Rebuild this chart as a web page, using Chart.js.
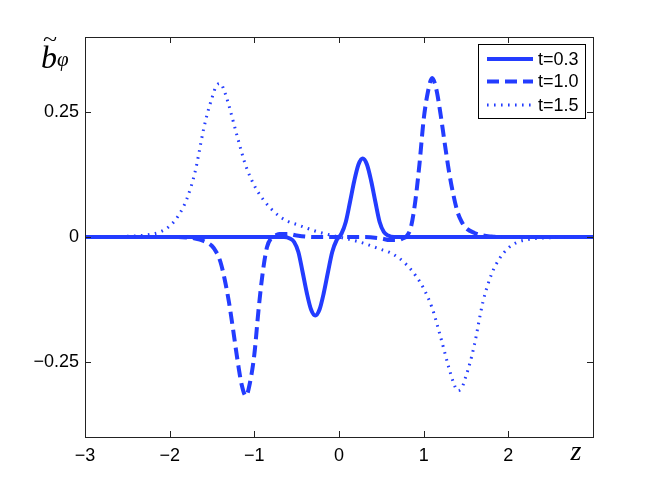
<!DOCTYPE html>
<html>
<head>
<meta charset="utf-8">
<script src="https://cdn.jsdelivr.net/npm/chart.js@4.4.1/dist/chart.umd.min.js"></script>
<style>
  body { margin: 0; background: #fff; }
  canvas { display: block; }
</style>
</head>
<body>
<canvas id="chart" width="654" height="492"></canvas>
<script>
// values
const xTicks = [-3, -2, -1, 0, 1, 2];
const yTicks = [-0.25, 0, 0.25];
const seriesLabels = ['t=0.3', 't=1.0', 't=1.5'];

const zT03 = [-3, -0.65, -0.58, -0.53, -0.48, -0.43, -0.38, -0.33, -0.28, -0.23, -0.18, -0.13, -0.08, -0.03, 0,
              0.03, 0.08, 0.13, 0.18, 0.23, 0.28, 0.33, 0.38, 0.43, 0.48, 0.53, 0.58, 0.65, 3];
const bT03 = [0, 0, -0.003, -0.01, -0.03, -0.07, -0.112, -0.145, -0.157, -0.145, -0.112, -0.07, -0.03, -0.007, 0,
              0.007, 0.03, 0.07, 0.112, 0.145, 0.157, 0.145, 0.112, 0.07, 0.03, 0.01, 0.003, 0, 0];

const zT10 = [-3, -1.9, -1.8, -1.7, -1.6, -1.5, -1.45, -1.4, -1.35, -1.3, -1.25, -1.2, -1.15, -1.1, -1.05, -1.0,
              -0.95, -0.9, -0.85, -0.8, -0.75, -0.7, -0.6, -0.5, -0.3, 0,
              0.3, 0.5, 0.6, 0.7, 0.75, 0.8, 0.85, 0.9, 0.95, 1.0, 1.05, 1.1, 1.15, 1.2, 1.25, 1.3, 1.35,
              1.4, 1.45, 1.5, 1.6, 1.7, 1.8, 1.9, 3];
const bT10 = [0, 0, -0.001, -0.003, -0.008, -0.018, -0.03, -0.05, -0.085, -0.13, -0.186, -0.245, -0.295, -0.318, -0.29, -0.235,
              -0.145, -0.07, -0.02, -0.002, 0.003, 0.006, 0.006, 0.003, 0, 0,
              0, -0.003, -0.006, -0.006, -0.003, 0.002, 0.02, 0.07, 0.145, 0.235, 0.29, 0.318, 0.295, 0.245, 0.186, 0.13, 0.085,
              0.05, 0.03, 0.018, 0.008, 0.003, 0.001, 0, 0];

const zT15 = [-3, -2.6, -2.4, -2.2, -2.1, -2.0, -1.9, -1.8, -1.7, -1.6, -1.55, -1.5, -1.45, -1.4, -1.35, -1.3, -1.2,
              -1.1, -1.0, -0.9, -0.8, -0.7, -0.6, -0.5, -0.4, -0.3, -0.2, 0,
              0.2, 0.3, 0.4, 0.5, 0.6, 0.7, 0.8, 0.9, 1.0, 1.1, 1.2, 1.3, 1.35, 1.4, 1.45, 1.5, 1.55, 1.6,
              1.7, 1.8, 1.9, 2.0, 2.1, 2.2, 2.4, 2.6, 3];
const bT15 = [0, 0.001, 0.002, 0.006, 0.011, 0.022, 0.042, 0.075, 0.13, 0.215, 0.25, 0.278, 0.302, 0.307, 0.29, 0.263, 0.2,
              0.142, 0.103, 0.076, 0.056, 0.041, 0.031, 0.025, 0.019, 0.013, 0.008, 0,
              -0.008, -0.013, -0.019, -0.025, -0.031, -0.041, -0.056, -0.076, -0.103, -0.142, -0.2, -0.263, -0.29, -0.307, -0.302, -0.278, -0.25, -0.215,
              -0.13, -0.075, -0.042, -0.022, -0.011, -0.006, -0.002, -0.001, 0];

const BLUE = 'rgb(35,60,255)';
const toPoints = (zs, bs) => zs.map((z, i) => ({ x: z, y: bs[i] }));
const fmt = v => (v < 0 ? '\u2212' + String(-v) : String(v));

// inward ticks, full box, axis symbols and legend in the upper right
const decorations = {
    id: 'decorations',
    afterDraw(chart) {
        const { ctx, chartArea: a, scales: { x, y } } = chart;
        ctx.save();
        ctx.strokeStyle = '#222';
        ctx.lineWidth = 1;
        ctx.setLineDash([]);
        ctx.beginPath();
        xTicks.forEach(v => {
            const px = Math.round(x.getPixelForValue(v)) + 0.5;
            ctx.moveTo(px, a.bottom); ctx.lineTo(px, a.bottom - 6);
            ctx.moveTo(px, a.top); ctx.lineTo(px, a.top + 6);
        });
        yTicks.forEach(v => {
            const py = Math.round(y.getPixelForValue(v)) + 0.5;
            ctx.moveTo(a.left, py); ctx.lineTo(a.left + 6, py);
            ctx.moveTo(a.right, py); ctx.lineTo(a.right - 6, py);
        });
        ctx.stroke();
        ctx.strokeRect(Math.round(a.left) + 0.5, Math.round(a.top) + 0.5,
                       Math.round(a.right - a.left), Math.round(a.bottom - a.top));

        // y label: b tilde with subscript phi
        ctx.fillStyle = '#000';
        ctx.textBaseline = 'alphabetic';
        ctx.textAlign = 'left';
        ctx.font = 'italic 32px "Liberation Serif"';
        ctx.fillText('b', 41, 68);
        ctx.save();
        ctx.font = '26px "Liberation Serif"';
        ctx.textAlign = 'center';
        ctx.translate(50, 46);
        ctx.scale(1.0, 0.8);
        ctx.fillText('~', 0, 0);
        ctx.restore();
        ctx.font = 'italic 21px "Liberation Serif"';
        ctx.fillText('\u03c6', 57, 66);

        // x label
        ctx.font = 'italic 28px "Liberation Serif"';
        ctx.textAlign = 'center';
        ctx.fillText('z', 576, 460);

        // legend
        const box = { l: 478, t: 44, w: 107, h: 74 };
        ctx.fillStyle = '#fff';
        ctx.fillRect(box.l, box.t, box.w, box.h);
        ctx.strokeStyle = '#000';
        ctx.strokeRect(box.l + 0.5, box.t + 0.5, box.w, box.h);
        const rows = [59, 81.5, 105];
        chart.data.datasets.forEach((ds, i) => {
            ctx.strokeStyle = ds.borderColor;
            ctx.lineWidth = ds.borderWidth;
            ctx.lineCap = 'butt';
            ctx.setLineDash(ds.borderDash || []);
            ctx.beginPath();
            ctx.moveTo(487, rows[i]);
            ctx.lineTo(533, rows[i]);
            ctx.stroke();
            ctx.setLineDash([]);
            ctx.fillStyle = '#000';
            ctx.font = '18px "Liberation Sans"';
            ctx.textAlign = 'left';
            ctx.textBaseline = 'middle';
            ctx.fillText(ds.label, 538, rows[i] + 1);
        });
        ctx.restore();
    }
};

new Chart(document.getElementById('chart').getContext('2d'), {
    type: 'line',
    data: {
        datasets: [
            { label: seriesLabels[0], data: toPoints(zT03, bT03), borderColor: BLUE, borderWidth: 4, order: 3 },
            { label: seriesLabels[1], data: toPoints(zT10, bT10), borderColor: BLUE, borderWidth: 4, borderDash: [12, 6], order: 2 },
            { label: seriesLabels[2], data: toPoints(zT15, bT15), borderColor: BLUE, borderWidth: 3, borderDash: [1.6, 5.4], order: 1 }
        ]
    },
    options: {
        responsive: false,
        animation: false,
        devicePixelRatio: 1,
        layout: { padding: { top: 37, right: 61, left: 0, bottom: 0 } },
        elements: {
            point: { radius: 0 },
            line: { cubicInterpolationMode: 'monotone', fill: false, borderCapStyle: 'butt' }
        },
        plugins: { legend: { display: false }, tooltip: { enabled: false } },
        scales: {
            x: {
                type: 'linear',
                min: -3,
                max: 3,
                afterFit: s => { s.height = 55; },
                afterBuildTicks: s => { s.ticks = xTicks.map(v => ({ value: v })); },
                grid: { display: false, drawTicks: false },
                border: { display: false },
                ticks: {
                    callback: v => fmt(v),
                    color: '#000',
                    font: { family: 'Liberation Sans', size: 18 },
                    padding: 8,
                    maxRotation: 0,
                    autoSkip: false
                }
            },
            y: {
                type: 'linear',
                min: -0.4,
                max: 0.4,
                afterFit: s => { s.width = 85; },
                afterBuildTicks: s => { s.ticks = yTicks.map(v => ({ value: v })); },
                grid: { display: false, drawTicks: false },
                border: { display: false },
                ticks: {
                    callback: v => fmt(v),
                    color: '#000',
                    font: { family: 'Liberation Sans', size: 18 },
                    padding: 6,
                    autoSkip: false
                }
            }
        }
    },
    plugins: [decorations]
});
</script>
</body>
</html>
